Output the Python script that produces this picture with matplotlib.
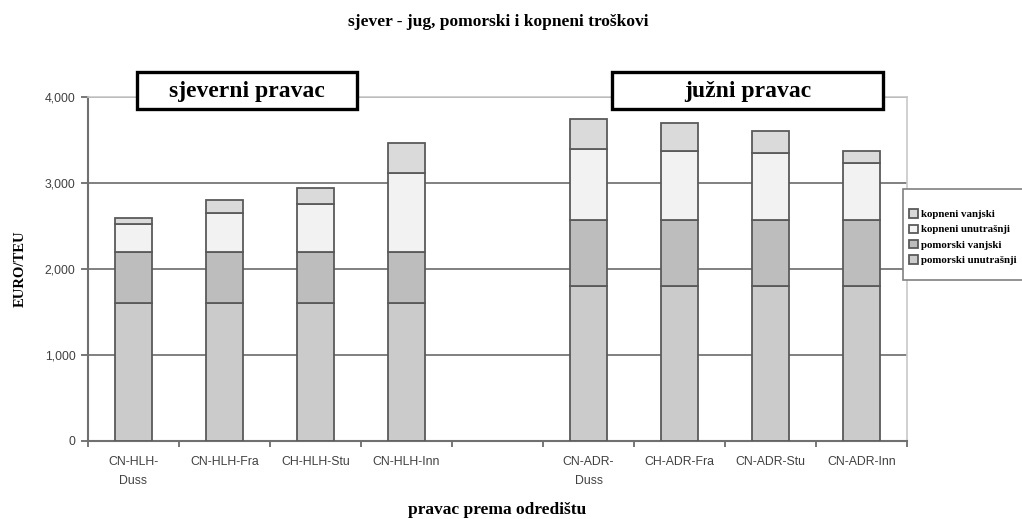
import numpy as np
import matplotlib
matplotlib.use('Agg')
from matplotlib import pyplot as plt
from matplotlib.patches import Rectangle

# categories (blank slot separates the two routes)
kategorije = ['CN-HLH-\nDuss', 'CN-HLH-Fra', 'CH-HLH-Stu', 'CN-HLH-Inn', '',
              'CN-ADR-\nDuss', 'CH-ADR-Fra', 'CN-ADR-Stu', 'CN-ADR-Inn']

# stacked segments, bottom to top (EURO/TEU); nan = empty slot
pomorski_unutrasnji = [1600, 1600, 1600, 1600, np.nan, 1800, 1800, 1800, 1800]
pomorski_vanjski = [600, 600, 600, 600, np.nan, 770, 770, 770, 770]
kopneni_unutrasnji = [325, 450, 555, 920, np.nan, 830, 800, 775, 660]
kopneni_vanjski = [65, 150, 190, 340, np.nan, 345, 325, 255, 145]

serije = [('pomorski unutrašnji', pomorski_unutrasnji, '#cbcbcb'),
          ('pomorski vanjski', pomorski_vanjski, '#bdbdbd'),
          ('kopneni unutrašnji', kopneni_unutrasnji, '#f2f2f2'),
          ('kopneni vanjski', kopneni_vanjski, '#dadada')]

serif = 'Liberation Serif'
sans = 'Liberation Sans'

fig = plt.figure(figsize=(10.22, 5.19), dpi=100)
ax = fig.add_axes([0.0861, 0.1503, 0.8014, 0.6628])

x = np.arange(len(kategorije))
dno = np.zeros(len(kategorije))
rukohvati = []
for ime, vals, boja in serije:
    v = np.array(vals, dtype=float)
    ok = ~np.isnan(v)
    b = ax.bar(x[ok], v[ok], width=0.41, bottom=dno[ok], color=boja,
               edgecolor='#5a5a5a', linewidth=1.3, label=ime, zorder=3)
    rukohvati.append(b)
    dno[ok] += v[ok]

ax.set_xlim(-0.5, len(kategorije) - 0.5)
ax.set_ylim(0, 4000)
ax.set_yticks([0, 1000, 2000, 3000, 4000])
ax.set_yticklabels(['0', '1,000', '2,000', '3,000', '4,000'])
ax.yaxis.grid(True, color='#808080', linewidth=1.4, zorder=0)
ax.set_axisbelow(True)

# tick marks between categories, labels centred under bars
ax.set_xticks(np.arange(-0.5, len(kategorije), 1.0))
ax.set_xticklabels([])
ax.set_xticks(x, minor=True)
ax.set_xticklabels(kategorije, minor=True, linespacing=1.75)
ax.tick_params(axis='x', which='minor', length=0, pad=11)
ax.tick_params(axis='x', which='major', length=4, width=1.2, color='#606060')
ax.tick_params(axis='y', length=5, width=1.2, color='#606060', pad=4)
for lab in ax.get_xticklabels(minor=True) + ax.get_yticklabels():
    lab.set_fontfamily(sans)
    lab.set_fontsize(8.8)
    lab.set_color('#404040')

ax.spines['left'].set_color('#707070')
ax.spines['left'].set_linewidth(1.5)
ax.spines['bottom'].set_color('#707070')
ax.spines['bottom'].set_linewidth(1.5)
ax.spines['right'].set_color('#c8c8c8')
ax.spines['right'].set_linewidth(1.2)
ax.spines['top'].set_color('#c8c8c8')
ax.spines['top'].set_linewidth(1.2)

fig.text(0.4878, 1 - 22 / 519, 'sjever - jug, pomorski i kopneni troškovi', ha='center', va='center',
         fontfamily=serif, fontweight='bold', fontsize=12.5)
fig.text(0.0195, 0.482, 'EURO/TEU', rotation=90, ha='center', va='center',
         fontfamily=serif, fontweight='bold', fontsize=10.5)
fig.text(0.4863, 1 - 510 / 519, 'pravac prema odredištu', ha='center', va='center',
         fontfamily=serif, fontweight='bold', fontsize=12.5)

# route label boxes
for x0, x1, tekst in [(137, 357, 'sjeverni pravac'), (612, 883, 'južni pravac')]:
    r = Rectangle((x0 / 1022, 1 - 109 / 519), (x1 - x0) / 1022, 37 / 519,
                  transform=fig.transFigure, facecolor='white', edgecolor='black',
                  linewidth=2.4, zorder=5)
    fig.patches.append(r)
    fig.text((x0 + x1) / 2 / 1022, 1 - 91 / 519, tekst, ha='center', va='center',
             fontfamily=serif, fontweight='bold', fontsize=17, zorder=6)

# legend frame runs past the right edge, as in the original
okvir = Rectangle((903 / 1022, 1 - 280 / 519), 200 / 1022, 91 / 519,
                  transform=fig.transFigure, facecolor='white', edgecolor='#808080',
                  linewidth=1.2, zorder=4)
fig.patches.append(okvir)
leg = fig.legend(rukohvati[::-1], [s[0] for s in serije[::-1]],
                 loc='upper left', bbox_to_anchor=(906 / 1022, 1 - 206 / 519),
                 prop={'family': serif, 'weight': 'bold', 'size': 7.8},
                 frameon=False, handlelength=0.8, handleheight=0.8, handletextpad=0.3,
                 labelspacing=0.5, borderpad=0.3, borderaxespad=0)

fig.savefig('out.png', dpi=100)
